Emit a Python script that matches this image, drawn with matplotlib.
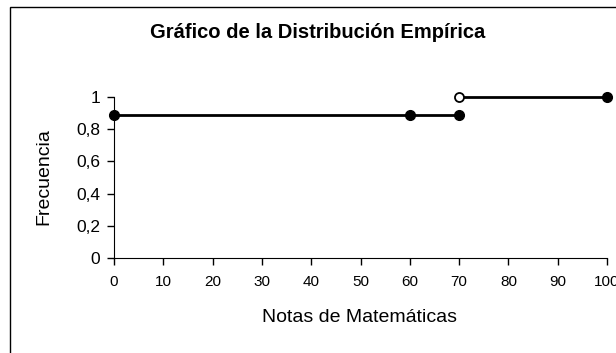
import matplotlib.pyplot as plt
from matplotlib.patches import Rectangle
from matplotlib.ticker import FuncFormatter

plt.rcParams['font.family'] = ['Liberation Sans', 'DejaVu Sans']

# tramo cerrado (0 a 70) y tramo que empieza en 70 abierto
tramo1_x = [0, 60, 70]
tramo1_y = [0.89, 0.89, 0.89]
tramo2_x = [70, 100]
tramo2_y = [1.0, 1.0]

x_ticks = [0, 10, 20, 30, 40, 50, 60, 70, 80, 90, 100]
y_ticks = [0, 0.2, 0.4, 0.6, 0.8, 1]

W, H = 616, 353
fig = plt.figure(figsize=(W / 100, H / 100), dpi=100)

# marco del grafico (recortado a la derecha y abajo)
fig.patches.append(Rectangle((10 / W, -0.1), 1.2, 1 - 7 / H + 0.1,
                             transform=fig.transFigure, fill=False,
                             edgecolor='black', linewidth=1))

ax = fig.add_axes([114 / W, 1 - 258 / H, (607 - 114) / W, (258 - 97) / H])

ax.plot(tramo1_x, tramo1_y, color='black', lw=2, marker='o', ms=7,
        mfc='black', mec='black', clip_on=False, zorder=3)
ax.plot(tramo2_x, tramo2_y, color='black', lw=2, clip_on=False, zorder=3)
ax.plot(tramo2_x[-1], tramo2_y[-1], 'o', color='black', ms=7, clip_on=False, zorder=4)
ax.plot(tramo2_x[0], tramo2_y[0], 'o', mfc='white', mec='black', mew=1.3, ms=6.5,
        clip_on=False, zorder=4)

ax.set_xlim(0, 100)
ax.set_ylim(0, 1)
ax.set_xticks(x_ticks)
ax.set_yticks(y_ticks)
ax.yaxis.set_major_formatter(FuncFormatter(lambda v, p: ('%g' % v).replace('.', ',')))
ax.spines['top'].set_visible(False)
ax.spines['right'].set_visible(False)
ax.tick_params(axis='x', direction='out', length=5, width=1, labelsize=11, pad=7)
ax.tick_params(axis='y', direction='out', length=5, width=1, labelsize=12.5, pad=5)

fig.text(318 / W, 1 - 33 / H, 'Gráfico de la Distribución Empírica',
         ha='center', va='center', fontsize=14.5, fontweight='bold')
fig.text(360 / W, 1 - 318 / H, 'Notas de Matemáticas', ha='center', va='center', fontsize=14)
fig.text(44 / W, 1 - 177 / H, 'Frecuencia', ha='center', va='center',
         rotation=90, fontsize=14)

fig.savefig('out.png', dpi=100)
